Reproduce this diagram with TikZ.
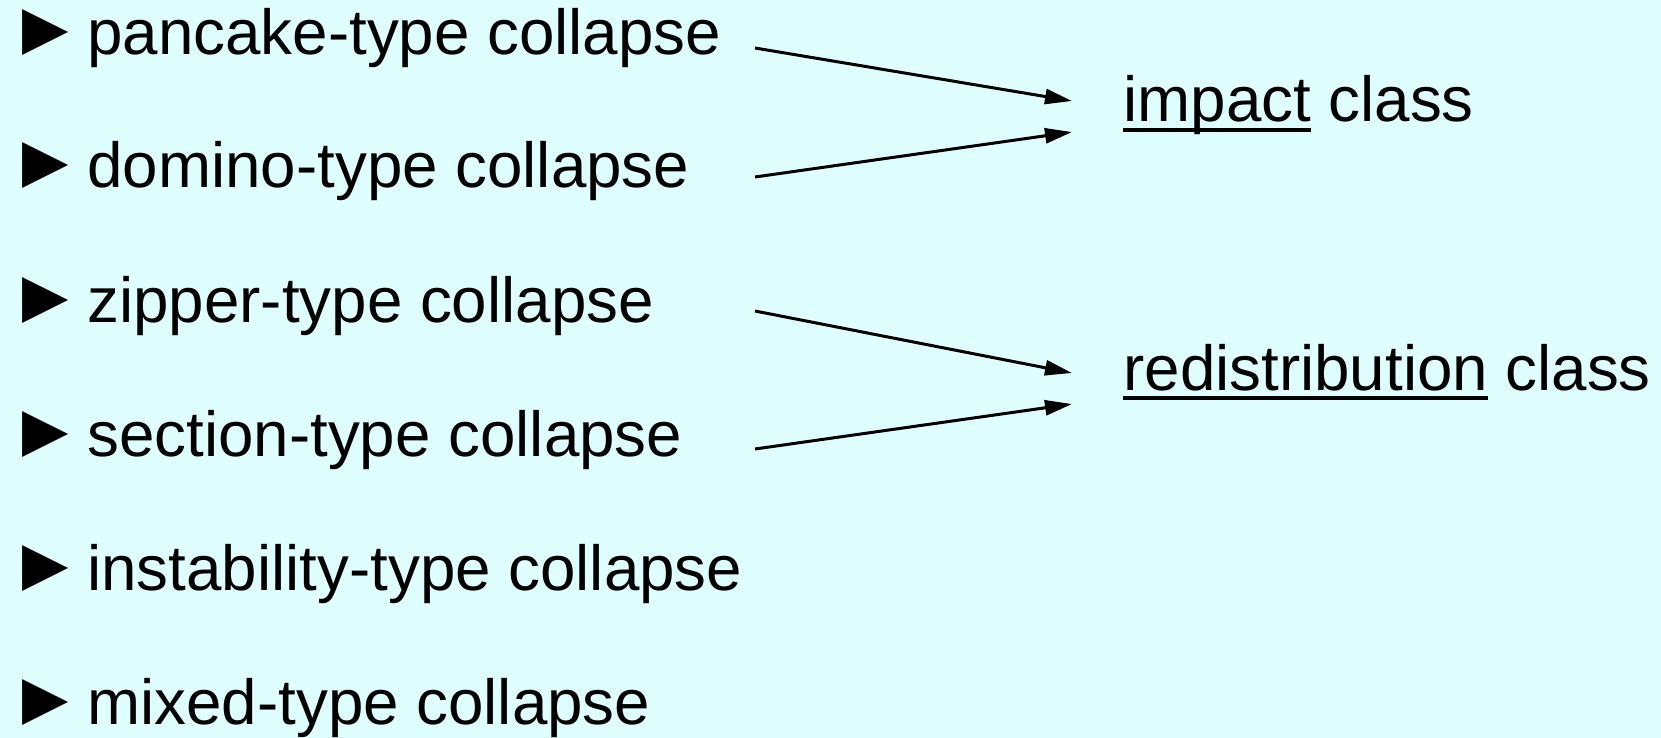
\documentclass[tikz,border=0pt]{standalone}
\usepackage{fontspec}
\setmainfont{Liberation Sans}
\usetikzlibrary{arrows.meta}
\definecolor{bgcyan}{RGB}{223,255,255}
\newcommand\myul[1]{\setbox0\hbox{#1}\rlap{\rule[-5.2pt]{\wd0}{2.1pt}}\box0\relax}
\newcommand\bul{\makebox[40pt][l]{\smash{\fontsize{38.5}{38.5}\selectfont ►}}}
\begin{document}
\begin{tikzpicture}[x=0.5pt,y=-0.5pt,
  item/.style={anchor=base west,inner sep=0pt,font=\fontsize{31.85}{38}\selectfont},
  conn/.style={line width=1.5pt,-{Triangle[length=13.5pt,width=7.5pt]}}]
\fill[bgcyan] (0,0) rectangle (1661,738);
\useasboundingbox (0,0) rectangle (1661,738);
\node[item] (pan) at (7,55) {\bul pancake-type collapse};
\node[item] (dom) at (7,188) {\bul domino-type collapse};
\node[item] (zip) at (7,322) {\bul zipper-type collapse};
\node[item] (sec) at (7,456) {\bul section-type collapse};
\node[item] (ins) at (7,590) {\bul instability-type collapse};
\node[item] (mix) at (7,724) {\bul mixed-type collapse};
\node[item] (imp) at (1123,122) {\myul{impact} class};
\node[item] (red) at (1123,390) {\myul{redistribution} class};
\coordinate (pan-e) at (755,48);
\coordinate (dom-e) at (755,177);
\coordinate (zip-e) at (755,311);
\coordinate (sec-e) at (755,449);
\coordinate (imp-a) at (1072,101);
\coordinate (imp-b) at (1072,132);
\coordinate (red-a) at (1072,373);
\coordinate (red-b) at (1072,404);
\draw[conn] (pan-e) -- (imp-a);
\draw[conn] (dom-e) -- (imp-b);
\draw[conn] (zip-e) -- (red-a);
\draw[conn] (sec-e) -- (red-b);
\end{tikzpicture}
\end{document}
